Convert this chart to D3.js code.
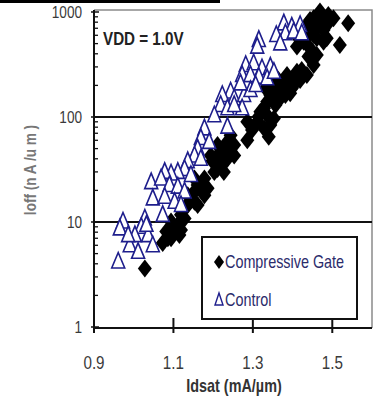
<!DOCTYPE html>
<html><head><meta charset="utf-8">
<script src="https://cdn.jsdelivr.net/npm/d3@7"></script>
<style>
html,body{margin:0;padding:0;background:#fff;}
svg{display:block;}
text{font-family:'Liberation Sans',Arial,sans-serif;}
</style></head>
<body>
<svg id="c" width="375" height="398"></svg>
<script>
// ---- data ----
const xTicks = [0.9, 1.1, 1.3, 1.5];
const yTicks = [1, 10, 100, 1000];
const gridValues = [10, 100];
const seriesNames = ["Compressive Gate", "Control"];
// Compressive Gate: Idsat (mA/um), Ioff (nA/um)
const gateX = [1.469,1.490,1.453,1.436,1.540,1.519,1.411,1.444,1.461,1.478,1.453,1.453,1.478,1.361,1.386,1.411,1.428,1.378,1.398,1.353,1.369,1.332,1.336,1.319,1.311,1.286,1.344,1.340,1.286,1.236,1.244,1.219,1.227,1.211,1.194,1.178,1.161,1.178,1.153,1.136,1.119,1.103,1.086,1.073,1.115,1.028,1.094,1.403,1.419,1.357,1.244,1.253,1.211,1.198,1.153,1.136,1.128,1.082,1.503,1.436,1.415,1.486,1.336,
  1.390,1.407,1.369,1.382,1.394,1.357,1.344,1.423,1.436,1.328,1.315,1.353,1.298,1.328,1.227,1.236,1.211,1.253,1.223,1.203,1.169,1.153,1.186,1.144,1.161,1.128,1.111,1.094,1.119,1.444,1.465,1.478,1.453,1.486,1.428,1.440,1.461];
const gateY = [1010,938,872,753,780,485,468,451,562,522,313,700,675,234,251,270,251,202,188,175,151,188,104,112,90,90,84,65,60,58,47,38,30,32,43,26,22.5,18,15.6,14.5,11.7,8.1,7.0,6.3,7.5,3.6,10.1,202,225,130,67,54,54,38,19.5,18,13.5,8.1,870,582,562,753,140,
  217,225,175,162,168,202,162,281,251,121,101,97,75,78,50,40,43,43,35,30,22.5,26,21,16.8,14.5,10.8,9.4,7.0,8.4,840,780,870,604,562,522,376,390];
// Control
const ctrlX = [1.378,1.398,1.419,1.359,1.382,1.403,1.423,1.369,1.315,1.311,1.282,1.302,1.323,1.344,1.273,1.294,1.315,1.336,1.353,1.244,1.223,1.253,1.278,1.294,1.307,1.219,1.236,1.273,1.253,1.203,1.236,1.178,1.169,1.190,1.161,1.153,1.136,1.169,1.128,1.111,1.144,1.094,1.078,1.044,1.069,1.090,1.111,1.128,1.048,1.078,1.103,1.119,1.073,1.028,1.019,1.003,0.973,0.965,0.990,1.011,0.961,1.036,1.048,0.986,1.032,1.269];
const ctrlY = [780,726,752,604,627,650,627,503,542,468,313,325,291,302,251,251,242,234,270,175,162,151,162,181,202,130,121,121,130,104,81,78,63,58,50,43,38,40,32,30,28,29,30,24,26,22.5,21.7,19.5,16.8,17.4,15.6,14.5,11.7,10.8,9.0,7.5,10.1,8.7,6.0,5.2,4.2,7.5,6.0,7.5,9.4,209];

const svg = d3.select("#c");
const L = 94, R = 372, T = 12, B = 327;
const x = d3.scaleLinear().domain([0.9, 1.6]).range([L, R]);
const y = d3.scaleLog().domain([1, 1000]).range([B, T]);
const SX = 0.8; // condensed text

function ctext(parent, px, py, str, opts) {
  const g = parent.append("g").attr("transform", `translate(${px},${py}) ${opts.rotate ? "rotate(-90)" : ""} scale(${SX},1)`);
  const t = g.append("text").attr("x",0).attr("y",0).text(str)
    .attr("font-size", opts.size).attr("fill", opts.fill)
    .attr("text-anchor", opts.anchor || "start");
  if (opts.bold) t.attr("font-weight","bold");
  return t;
}

// top black bar artifact
svg.append("rect").attr("x",0).attr("y",0).attr("width",220).attr("height",3).attr("fill","#000");

// frame (top/right gray)
svg.append("path").attr("d",`M${L},${T-2}H${R}V${B+1}`).attr("fill","none").attr("stroke","#8a8a8a").attr("stroke-width",1.5);

// gridlines
svg.selectAll("line.grid").data(gridValues).enter().append("line")
  .attr("x1",L).attr("x2",R).attr("y1",d=>y(d)).attr("y2",d=>y(d))
  .attr("stroke","#111").attr("stroke-width",2);

// y axis
const minor = [];
for (let e=0;e<3;e++) for (let m=2;m<=9;m++) minor.push(m*Math.pow(10,e));
svg.selectAll("line.minor").data(minor).enter().append("line")
  .attr("x1",L).attr("x2",L+4).attr("y1",d=>y(d)).attr("y2",d=>y(d))
  .attr("stroke","#111").attr("stroke-width",1.3);
svg.selectAll("line.ymaj").data(yTicks).enter().append("line")
  .attr("x1",L-3).attr("x2",L+5).attr("y1",d=>y(d)).attr("y2",d=>y(d))
  .attr("stroke","#111").attr("stroke-width",1.5);
svg.append("line").attr("x1",L).attr("x2",L).attr("y1",T-2).attr("y2",B+1).attr("stroke","#111").attr("stroke-width",2);
yTicks.forEach(d => ctext(svg, 82, y(d)+6, d, {size:17, fill:"#3a3a3a", anchor:"end"}));

// x axis
svg.append("line").attr("x1",L).attr("x2",R).attr("y1",B+1).attr("y2",B+1).attr("stroke","#111").attr("stroke-width",2);
svg.selectAll("line.xt").data(xTicks).enter().append("line")
  .attr("x1",d=>x(d)).attr("x2",d=>x(d)).attr("y1",B-9).attr("y2",B+6)
  .attr("stroke","#111").attr("stroke-width",2);
xTicks.forEach(d => ctext(svg, x(d), 369, d3.format(".1f")(d), {size:19, fill:"#3a3a3a", anchor:"middle"}));

// axis titles
ctext(svg, 234, 392, "Idsat (mA/\u00b5m)", {size:18, fill:"#333", anchor:"middle", bold:true});
ctext(svg, 36, 170, "Ioff (n A /u m )", {size:17, fill:"#777", anchor:"middle", bold:true, rotate:true});

// annotation
ctext(svg, 103, 45, "VDD = 1.0V", {size:19, fill:"#222", bold:true});

// markers
const diamond = "M0,-9L7,0L0,9L-7,0Z";
const tri = "M0,-9L6.5,6.5L-6.5,6.5Z";
const gate = gateX.map((v,i)=>[v,gateY[i]]);
const ctrl = ctrlX.map((v,i)=>[v,ctrlY[i]]);
svg.append("g").selectAll("path").data(gate).enter().append("path")
  .attr("d",diamond).attr("transform",d=>`translate(${x(d[0])},${y(d[1])})`).attr("fill","#000");
svg.append("g").selectAll("path").data(ctrl).enter().append("path")
  .attr("d",tri).attr("transform",d=>`translate(${x(d[0])},${y(d[1])})`)
  .attr("fill","#fff").attr("stroke","#1e1e8c").attr("stroke-width",1.6);

// legend
const lg = svg.append("g");
lg.append("rect").attr("x",202).attr("y",237).attr("width",155).attr("height",82)
  .attr("fill","#fff").attr("stroke","#111").attr("stroke-width",2);
lg.append("path").attr("d","M0,-7L5,0L0,7L-5,0Z").attr("transform","translate(219,262)").attr("fill","#000");
lg.append("path").attr("d","M0,-7L4,5L-4,5Z").attr("transform","translate(219,300)").attr("fill","#fff").attr("stroke","#1e1e8c").attr("stroke-width",1.4);
seriesNames.forEach((d,i) => ctext(lg, 225, 268+i*38, d, {size:18, fill:"#2b2b6b"}));
</script>
</body></html>
